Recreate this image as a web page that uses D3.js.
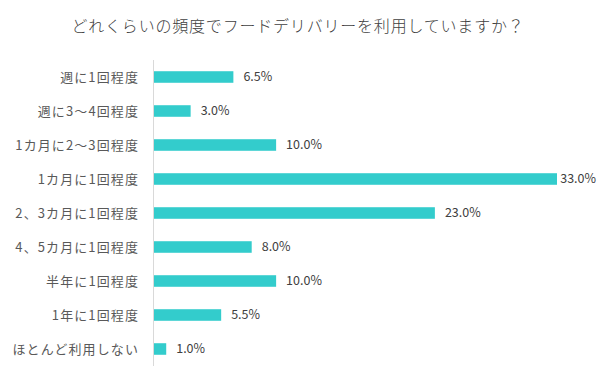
<!DOCTYPE html>
<html><head><meta charset="utf-8">
<script src="https://cdn.jsdelivr.net/npm/d3@7"></script>
<style>
body{margin:0;background:#fff;}
text{font-family:"Noto Sans CJK JP","Noto Sans",sans-serif;}
</style></head>
<body><svg id="c" width="600" height="383"></svg>
<script>
const title = "どれくらいの頻度でフードデリバリーを利用していますか？";
const categories = ["週に1回程度","週に3〜4回程度","1カ月に2〜3回程度","1カ月に1回程度","2、3カ月に1回程度","4、5カ月に1回程度","半年に1回程度","1年に1回程度","ほとんど利用しない"];
const values = [6.5,3.0,10.0,33.0,23.0,8.0,10.0,5.5,1.0];

const svg = d3.select("#c");
const x0 = 154;
const x = d3.scaleLinear().domain([0,33]).range([x0, 557]);
const y = d3.scaleBand().domain(categories).range([60,366]).paddingInner(0.66).paddingOuter(0.33);

svg.append("text").attr("x",298).attr("y",32).attr("text-anchor","middle")
  .attr("font-size",16).attr("letter-spacing","0.8px").attr("font-weight",300)
  .attr("fill","#404040").text(title);

svg.selectAll("rect.bar").data(values).join("rect").attr("class","bar")
  .attr("x",x0).attr("y",(d,i)=>y(categories[i]))
  .attr("width",d=>x(d)-x0).attr("height",y.bandwidth()).attr("fill","#33CCCC");

svg.append("line").attr("x1",x0-0.5).attr("x2",x0-0.5).attr("y1",60).attr("y2",366)
  .attr("stroke","#d9d9d9").attr("stroke-width",1);

svg.selectAll("text.cat").data(categories).join("text").attr("class","cat")
  .attr("x",139).attr("y",d=>y(d)+y.bandwidth()/2).attr("dy","0.35em")
  .attr("text-anchor","end").attr("font-size",13).attr("letter-spacing","1.1px")
  .attr("fill","#595959").text(d=>d);

svg.selectAll("text.val").data(values).join("text").attr("class","val")
  .attr("y",(d,i)=>y(categories[i])+y.bandwidth()/2).attr("dy","0.35em")
  .attr("font-size",12.5).attr("fill","#404040").text(d=>d.toFixed(1)+"%")
  .attr("x",function(d){const w=this.getComputedTextLength();return Math.min(x(d)+10,596-w);});
</script></body></html>
